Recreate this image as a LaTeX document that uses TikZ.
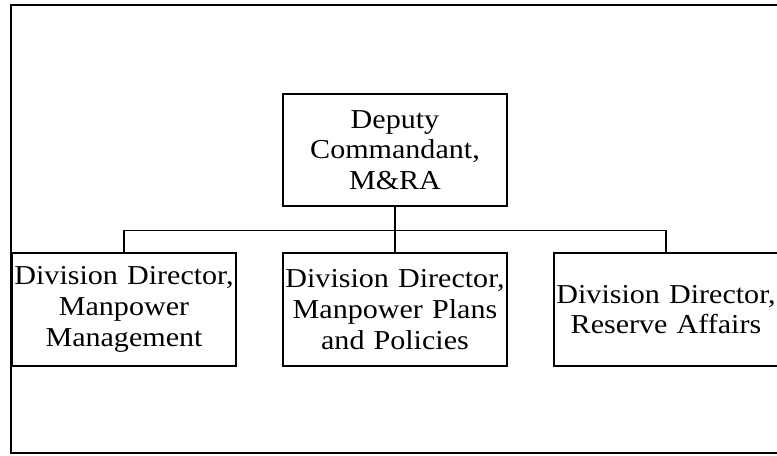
\documentclass[tikz,border=0pt]{standalone}
\usepackage{fontspec}
\setmainfont{Liberation Serif}[FakeStretch=1.1]
\begin{document}
\begin{tikzpicture}[x=0.75pt,y=-0.75pt,
  orgbox/.style={draw=black,line width=1.5pt,rectangle,inner sep=0pt,outer sep=0pt,
    minimum width=168pt,minimum height=84.75pt,text width=168pt,align=center,
    font=\fontsize{20.5pt}{23pt}\selectfont},
  link/.style={draw=black,line width=1.2pt}]
  \useasboundingbox (0,0) rectangle (777,455);
  % outer frame, running off the right edge
  \draw[line width=1.8pt] (800,5) -- (11,5) -- (11,453) -- (800,453);
  % boxes
  \node[orgbox,minimum width=165.75pt,minimum height=84pt] (dc) at (395,150) {Deputy\\Commandant,\\M\&RA};
  \node[orgbox] (mm) at (124,309.5) {Division Director,\\Manpower\\Management};
  \node[orgbox] (mp) at (395,309.5) {Division Director,\\Manpower Plans\\and Policies};
  \node[orgbox] (ra) at (666,309.5) {Division Director,\\Reserve Affairs};
  % connectors
  \coordinate (bus) at (395,230.5);
  \draw[link] (dc.south) -- (mp.north);
  \draw[link] (mm.north) |- (bus) -| (ra.north);
\end{tikzpicture}
\end{document}
